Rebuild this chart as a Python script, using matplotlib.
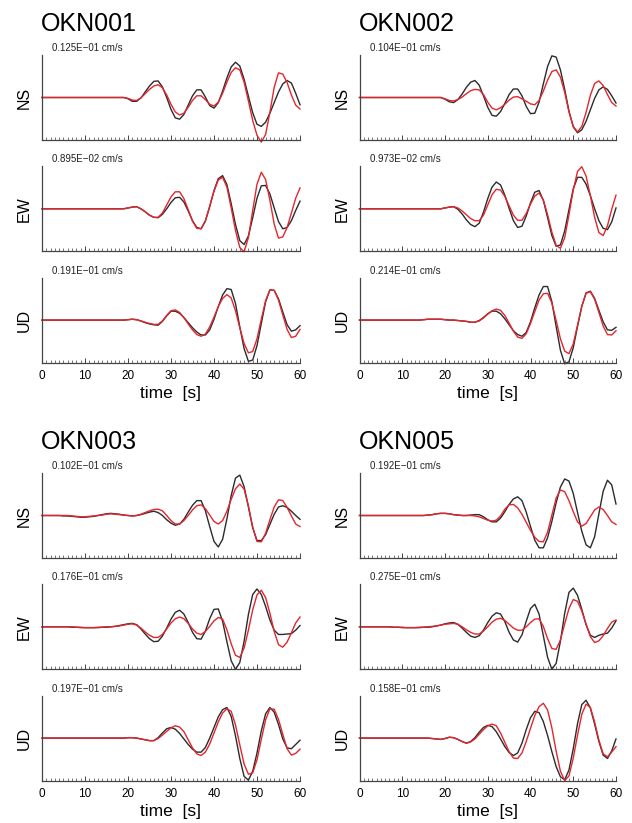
import numpy as np
import matplotlib.pyplot as plt

plt.rcParams['font.family'] = ['Liberation Sans', 'DejaVu Sans']

# time axis, one sample per second
t = np.arange(61)

stations = ['OKN001', 'OKN002', 'OKN003', 'OKN005']
components = ['NS', 'EW', 'UD']
tick_values = [0, 10, 20, 30, 40, 50, 60]

# peak amplitude text for each station / component
amp_text = {
    'OKN001': ['0.125E\u221201', '0.895E\u221202', '0.191E\u221201'],
    'OKN002': ['0.104E\u221201', '0.973E\u221202', '0.214E\u221201'],
    'OKN003': ['0.102E\u221201', '0.176E\u221201', '0.197E\u221201'],
    'OKN005': ['0.192E\u221201', '0.275E\u221201', '0.158E\u221201'],
}

# normalised waveforms (obs = black, syn = red), t = 0..60 s
okn001_ns_obs = [0, 0, 0, 0, 0, 0, 0, 0, 0, 0,
                 0, 0, 0, 0, 0, 0, 0, 0, 0, 0,
                 -0.03, -0.09, -0.09, -0.01, 0.13, 0.27, 0.38, 0.39, 0.25, 0.00,
                 -0.28, -0.48, -0.51, -0.40, -0.18, 0.04, 0.18, 0.18, 0.01, -0.19,
                 -0.25, -0.12, 0.15, 0.46, 0.72, 0.83, 0.74, 0.43, 0.03, -0.36,
                 -0.63, -0.68, -0.58, -0.37, -0.12, 0.13, 0.32, 0.40, 0.34, 0.10, -0.17]
okn001_ns_syn = [0, 0, 0, 0, 0, 0, 0, 0, 0, 0,
                 0, 0, 0, 0, 0, 0, 0, 0, 0, 0,
                 -0.02, -0.06, -0.07, -0.01, 0.09, 0.19, 0.27, 0.30, 0.23, 0.06,
                 -0.16, -0.34, -0.41, -0.37, -0.23, -0.07, 0.04, 0.04, -0.05, -0.16,
                 -0.20, -0.11, 0.10, 0.36, 0.59, 0.70, 0.65, 0.36, -0.08, -0.54,
                 -0.89, -1.05, -0.87, -0.35, 0.24, 0.58, 0.55, 0.35, 0.06, -0.18, -0.27]
okn001_ew_obs = [0, 0, 0, 0, 0, 0, 0, 0, 0, 0,
                 0, 0, 0, 0, 0, 0, 0, 0, 0, 0,
                 0.02, 0.04, 0.05, 0.00, -0.07, -0.15, -0.20, -0.21, -0.13, 0.00,
                 0.15, 0.26, 0.27, 0.16, -0.05, -0.28, -0.44, -0.47, -0.29, 0.05,
                 0.43, 0.71, 0.78, 0.57, 0.12, -0.37, -0.75, -0.84, -0.64, -0.21,
                 0.25, 0.54, 0.55, 0.35, 0.02, -0.30, -0.47, -0.44, -0.28, -0.04, 0.18]
okn001_ew_syn = [0, 0, 0, 0, 0, 0, 0, 0, 0, 0,
                 0, 0, 0, 0, 0, 0, 0, 0, 0, 0,
                 0.02, 0.04, 0.05, 0.00, -0.07, -0.15, -0.20, -0.20, -0.10, 0.09,
                 0.28, 0.40, 0.40, 0.24, -0.02, -0.29, -0.46, -0.47, -0.28, 0.06,
                 0.41, 0.68, 0.74, 0.51, 0.02, -0.51, -0.91, -1.01, -0.68, -0.04,
                 0.58, 0.86, 0.69, 0.20, -0.36, -0.69, -0.66, -0.44, -0.10, 0.25, 0.49]
okn001_ud_obs = [0, 0, 0, 0, 0, 0, 0, 0, 0, 0,
                 0, 0, 0, 0, 0, 0, 0, 0, 0, 0,
                 0.01, 0.02, 0.01, -0.02, -0.06, -0.09, -0.11, -0.12, -0.03, 0.10,
                 0.21, 0.21, 0.16, 0.06, -0.06, -0.18, -0.28, -0.35, -0.35, -0.23,
                 0.02, 0.32, 0.59, 0.74, 0.72, 0.39, -0.16, -0.67, -0.97, -0.94,
                 -0.60, -0.08, 0.43, 0.71, 0.70, 0.50, 0.19, -0.11, -0.26, -0.23, -0.13]
okn001_ud_syn = [0, 0, 0, 0, 0, 0, 0, 0, 0, 0,
                 0, 0, 0, 0, 0, 0, 0, 0, 0, 0,
                 0.01, 0.02, 0.01, -0.02, -0.05, -0.08, -0.10, -0.10, -0.02, 0.11,
                 0.22, 0.24, 0.18, 0.06, -0.09, -0.23, -0.34, -0.38, -0.33, -0.16,
                 0.07, 0.32, 0.51, 0.60, 0.52, 0.22, -0.18, -0.55, -0.77, -0.74,
                 -0.44, 0.02, 0.46, 0.71, 0.70, 0.47, 0.12, -0.22, -0.41, -0.38, -0.22]

okn002_ns_obs = [0, 0, 0, 0, 0, 0, 0, 0, 0, 0,
                 0, 0, 0, 0, 0, 0, 0, 0, 0, 0,
                 -0.04, -0.10, -0.12, -0.05, 0.08, 0.24, 0.36, 0.40, 0.29, 0.04,
                 -0.23, -0.42, -0.44, -0.33, -0.14, 0.07, 0.20, 0.20, 0.04, -0.21,
                 -0.38, -0.37, -0.11, 0.32, 0.73, 0.98, 0.95, 0.65, 0.19, -0.32,
                 -0.69, -0.83, -0.76, -0.56, -0.29, -0.02, 0.18, 0.25, 0.19, 0.04, -0.13]
okn002_ns_syn = [0, 0, 0, 0, 0, 0, 0, 0, 0, 0,
                 0, 0, 0, 0, 0, 0, 0, 0, 0, 0,
                 -0.03, -0.07, -0.08, -0.05, 0.01, 0.09, 0.16, 0.19, 0.18, 0.07,
                 -0.11, -0.25, -0.29, -0.24, -0.16, -0.06, 0.01, 0.02, -0.03, -0.09,
                 -0.15, -0.17, -0.07, 0.15, 0.41, 0.61, 0.65, 0.48, 0.12, -0.34,
                 -0.68, -0.81, -0.68, -0.35, 0.05, 0.33, 0.39, 0.28, 0.07, -0.12, -0.20]
okn002_ew_obs = [0, 0, 0, 0, 0, 0, 0, 0, 0, 0,
                 0, 0, 0, 0, 0, 0, 0, 0, 0, 0,
                 0.02, 0.04, 0.05, -0.01, -0.12, -0.26, -0.37, -0.42, -0.34, -0.08,
                 0.24, 0.51, 0.63, 0.56, 0.32, 0.01, -0.28, -0.44, -0.41, -0.17,
                 0.14, 0.39, 0.43, 0.20, -0.21, -0.63, -0.88, -0.85, -0.52, -0.02,
                 0.47, 0.74, 0.74, 0.58, 0.31, 0.00, -0.28, -0.46, -0.49, -0.31, 0.02]
okn002_ew_syn = [0, 0, 0, 0, 0, 0, 0, 0, 0, 0,
                 0, 0, 0, 0, 0, 0, 0, 0, 0, 0,
                 0.02, 0.04, 0.05, 0.02, -0.05, -0.14, -0.23, -0.28, -0.28, -0.15,
                 0.09, 0.33, 0.46, 0.44, 0.29, 0.07, -0.15, -0.27, -0.27, -0.11,
                 0.11, 0.30, 0.37, 0.21, -0.14, -0.55, -0.86, -0.93, -0.68, -0.14,
                 0.44, 0.88, 0.99, 0.77, 0.31, -0.20, -0.56, -0.63, -0.40, -0.01, 0.32]
okn002_ud_obs = [0, 0, 0, 0, 0, 0, 0, 0, 0, 0,
                 0, 0, 0, 0, 0, 0.01, 0.02, 0.02, 0.02, 0.02,
                 0.01, 0.00, 0.00, -0.01, -0.02, -0.03, -0.05, -0.05, -0.01, 0.06,
                 0.15, 0.21, 0.21, 0.15, 0.03, -0.11, -0.25, -0.34, -0.38, -0.29,
                 -0.04, 0.29, 0.59, 0.79, 0.79, 0.43, -0.15, -0.71, -1.03, -0.98,
                 -0.65, -0.15, 0.32, 0.64, 0.68, 0.51, 0.23, -0.04, -0.23, -0.24, -0.17]
okn002_ud_syn = [0, 0, 0, 0, 0, 0, 0, 0, 0, 0,
                 0, 0, 0, 0, 0, 0.01, 0.02, 0.02, 0.02, 0.02,
                 0.01, 0.00, 0.00, -0.01, -0.02, -0.03, -0.05, -0.05, -0.02, 0.05,
                 0.14, 0.22, 0.26, 0.23, 0.11, -0.07, -0.26, -0.40, -0.43, -0.32,
                 -0.08, 0.20, 0.47, 0.62, 0.63, 0.40, -0.01, -0.44, -0.73, -0.79,
                 -0.56, -0.12, 0.33, 0.63, 0.67, 0.49, 0.18, -0.14, -0.34, -0.35, -0.25]

okn003_ns_obs = [0, 0, 0, 0, 0, -0.01, -0.01, -0.02, -0.03, -0.04,
                 -0.04, -0.03, -0.02, 0.00, 0.02, 0.04, 0.05, 0.04, 0.03, 0.01,
                 0.00, -0.01, 0.00, 0.02, 0.05, 0.08, 0.10, 0.07, 0.00, -0.10,
                 -0.18, -0.23, -0.20, -0.09, 0.08, 0.24, 0.35, 0.35, 0.11, -0.26,
                 -0.61, -0.74, -0.56, -0.08, 0.47, 0.88, 0.95, 0.68, 0.20, -0.29,
                 -0.59, -0.59, -0.45, -0.21, 0.03, 0.20, 0.23, 0.19, 0.10, 0.00, -0.09]
okn003_ns_syn = [0, 0, 0, 0, 0, 0, 0, -0.01, -0.02, -0.03,
                 -0.03, -0.02, -0.01, 0.00, 0.01, 0.03, 0.04, 0.03, 0.02, 0.01,
                 0.00, -0.01, 0.00, 0.03, 0.07, 0.11, 0.14, 0.15, 0.11, 0.00,
                 -0.12, -0.20, -0.20, -0.12, 0.00, 0.13, 0.23, 0.25, 0.16, 0.01,
                 -0.14, -0.20, -0.12, 0.10, 0.38, 0.63, 0.74, 0.62, 0.23, -0.27,
                 -0.61, -0.62, -0.42, -0.10, 0.20, 0.37, 0.35, 0.19, -0.01, -0.20, -0.26]
okn003_ew_obs = [0, 0, 0, 0, 0, 0, 0, -0.01, -0.01, -0.02,
                 -0.02, -0.02, -0.02, -0.02, -0.01, -0.01, 0.00, 0.01, 0.03, 0.05,
                 0.07, 0.08, 0.05, -0.05, -0.17, -0.28, -0.35, -0.34, -0.22, -0.03,
                 0.18, 0.34, 0.39, 0.30, 0.10, -0.13, -0.28, -0.29, -0.10, 0.19,
                 0.41, 0.42, 0.13, -0.35, -0.80, -1.00, -0.84, -0.34, 0.29, 0.76,
                 0.89, 0.76, 0.48, 0.16, -0.08, -0.18, -0.18, -0.17, -0.16, -0.08, 0.03]
okn003_ew_syn = [0, 0, 0, 0, 0, 0, 0, 0, -0.01, -0.01,
                 -0.02, -0.02, -0.02, -0.01, -0.01, 0.00, 0.00, 0.01, 0.02, 0.04,
                 0.06, 0.07, 0.04, -0.03, -0.12, -0.20, -0.25, -0.25, -0.18, -0.05,
                 0.09, 0.19, 0.23, 0.19, 0.08, -0.05, -0.15, -0.18, -0.11, 0.01,
                 0.14, 0.22, 0.18, -0.07, -0.40, -0.67, -0.72, -0.50, -0.08, 0.40,
                 0.75, 0.86, 0.69, 0.32, -0.11, -0.42, -0.48, -0.36, -0.14, 0.09, 0.23]
okn003_ud_obs = [0, 0, 0, 0, 0, 0, 0, 0, 0, 0,
                 0, 0, 0, 0, 0, 0, 0, 0, 0, 0,
                 0.01, 0.01, 0.00, -0.02, -0.04, -0.06, -0.06, 0.01, 0.12, 0.22,
                 0.25, 0.21, 0.11, -0.02, -0.15, -0.26, -0.33, -0.33, -0.22, 0.00,
                 0.25, 0.50, 0.67, 0.72, 0.51, 0.05, -0.48, -0.90, -0.99, -0.78,
                 -0.35, 0.17, 0.57, 0.72, 0.61, 0.32, -0.02, -0.23, -0.25, -0.15, -0.05]
okn003_ud_syn = [0, 0, 0, 0, 0, 0, 0, 0, 0, 0,
                 0, 0, 0, 0, 0, 0, 0, 0, 0, 0,
                 0.01, 0.01, 0.00, -0.02, -0.04, -0.06, -0.06, -0.01, 0.07, 0.16,
                 0.24, 0.29, 0.26, 0.15, -0.04, -0.23, -0.37, -0.41, -0.33, -0.14,
                 0.12, 0.38, 0.59, 0.69, 0.63, 0.31, -0.16, -0.61, -0.85, -0.82,
                 -0.51, -0.03, 0.43, 0.69, 0.68, 0.44, 0.09, -0.25, -0.40, -0.36, -0.26]

okn005_ns_obs = [0, 0, 0, 0, 0, 0, 0, 0, 0, 0,
                 0, 0, 0, 0, 0, 0, 0.01, 0.02, 0.04, 0.05,
                 0.05, 0.04, 0.02, 0.01, 0.00, 0.00, 0.01, 0.02, 0.02, -0.03,
                 -0.10, -0.15, -0.15, -0.06, 0.09, 0.26, 0.39, 0.44, 0.35, 0.08,
                 -0.26, -0.58, -0.76, -0.76, -0.52, -0.14, 0.30, 0.67, 0.86, 0.81,
                 0.52, 0.07, -0.37, -0.69, -0.76, -0.50, 0.04, 0.57, 0.83, 0.72, 0.27]
okn005_ns_syn = [0, 0, 0, 0, 0, 0, 0, 0, 0, 0,
                 0, 0, 0, 0, 0, 0, 0.01, 0.02, 0.04, 0.05,
                 0.05, 0.04, 0.02, 0.01, 0.00, 0.00, 0.00, -0.01, -0.03, -0.07,
                 -0.11, -0.13, -0.11, -0.01, 0.15, 0.25, 0.26, 0.18, 0.03, -0.16,
                 -0.35, -0.51, -0.61, -0.62, -0.39, 0.01, 0.41, 0.60, 0.56, 0.35,
                 0.09, -0.15, -0.25, -0.19, -0.03, 0.13, 0.20, 0.14, 0.00, -0.15, -0.21]
okn005_ew_obs = [0, 0, 0, 0, 0, 0, 0, 0, -0.01, -0.01,
                 -0.02, -0.02, -0.02, -0.02, -0.02, -0.01, -0.01, 0.00, 0.02, 0.04,
                 0.07, 0.09, 0.10, 0.06, -0.03, -0.13, -0.22, -0.25, -0.21, -0.08,
                 0.10, 0.25, 0.33, 0.30, 0.12, -0.13, -0.31, -0.36, -0.19, 0.13,
                 0.43, 0.53, 0.30, -0.21, -0.72, -1.00, -0.86, -0.34, 0.32, 0.81,
                 0.91, 0.74, 0.41, 0.05, -0.20, -0.25, -0.20, -0.17, -0.15, -0.03, 0.14]
okn005_ew_syn = [0, 0, 0, 0, 0, 0, 0, 0, -0.01, -0.01,
                 -0.01, -0.02, -0.02, -0.02, -0.01, -0.01, 0.00, 0.01, 0.02, 0.04,
                 0.06, 0.07, 0.08, 0.06, 0.00, -0.07, -0.13, -0.17, -0.17, -0.10,
                 0.00, 0.11, 0.18, 0.20, 0.15, 0.06, -0.03, -0.08, -0.08, 0.00,
                 0.10, 0.18, 0.19, 0.01, -0.28, -0.51, -0.53, -0.31, 0.07, 0.43,
                 0.64, 0.60, 0.37, 0.06, -0.23, -0.37, -0.33, -0.21, -0.04, 0.11, 0.16]
okn005_ud_obs = [0, 0, 0, 0, 0, 0, 0, 0, 0, 0,
                 0, 0, 0, 0, 0, 0, 0, -0.01, -0.02, -0.03,
                 -0.01, 0.02, 0.01, -0.03, -0.08, -0.12, -0.08, 0.01, 0.14, 0.25,
                 0.30, 0.27, 0.15, -0.02, -0.20, -0.34, -0.41, -0.35, -0.12, 0.20,
                 0.48, 0.63, 0.60, 0.39, 0.06, -0.32, -0.67, -0.91, -0.98, -0.75,
                 -0.25, 0.34, 0.79, 0.89, 0.71, 0.33, -0.08, -0.40, -0.48, -0.30, -0.02]
okn005_ud_syn = [0, 0, 0, 0, 0, 0, 0, 0, 0, 0,
                 0, 0, 0, 0, 0, 0, 0, -0.01, -0.02, -0.03,
                 -0.01, 0.02, 0.01, -0.03, -0.08, -0.12, -0.09, -0.02, 0.09, 0.20,
                 0.29, 0.33, 0.29, 0.12, -0.10, -0.32, -0.47, -0.48, -0.35, -0.08,
                 0.23, 0.53, 0.74, 0.82, 0.66, 0.24, -0.31, -0.78, -1.00, -0.89,
                 -0.47, 0.07, 0.56, 0.80, 0.72, 0.38, -0.05, -0.37, -0.44, -0.33, -0.20]

obs = {
    'OKN001': [okn001_ns_obs, okn001_ew_obs, okn001_ud_obs],
    'OKN002': [okn002_ns_obs, okn002_ew_obs, okn002_ud_obs],
    'OKN003': [okn003_ns_obs, okn003_ew_obs, okn003_ud_obs],
    'OKN005': [okn005_ns_obs, okn005_ew_obs, okn005_ud_obs],
}
syn = {
    'OKN001': [okn001_ns_syn, okn001_ew_syn, okn001_ud_syn],
    'OKN002': [okn002_ns_syn, okn002_ew_syn, okn002_ud_syn],
    'OKN003': [okn003_ns_syn, okn003_ew_syn, okn003_ud_syn],
    'OKN005': [okn005_ns_syn, okn005_ew_syn, okn005_ud_syn],
}

W, H = 632, 823
fig = plt.figure(figsize=(W / 100, H / 100), dpi=100)

def px_axes(x, y, w, h):
    'axes from pixel box (top-left origin)'
    return fig.add_axes([x / W, 1 - (y + h) / H, w / W, h / H])

# block layout: (axis left, axis width, first axis top, label x)
blocks = {
    'OKN001': (42, 258, 55, 24),
    'OKN002': (359.5, 256.5, 55, 342),
    'OKN003': (42, 258, 473, 24),
    'OKN005': (359.5, 256.5, 473, 342),
}
ax_h = 85
step = 111.3

for st in stations:
    x0, aw, top, lx = blocks[st]
    fig.text((x0 - 1) / W, 1 - (top - 24) / H, st, fontsize=18,
             ha='left', va='baseline', color='black')
    for i, comp in enumerate(components):
        y = top + i * step
        ax = px_axes(x0, y, aw, ax_h)
        ax.plot(t, obs[st][i], color='#2b2b2b', lw=1.0, clip_on=False)
        ax.plot(t, syn[st][i], color='#e3262e', lw=1.0, clip_on=False)
        ax.set_xlim(0, 60)
        ax.set_ylim(-1, 1)
        for s in ('top', 'right'):
            ax.spines[s].set_visible(False)
        ax.spines['left'].set_color('#444444')
        ax.spines['bottom'].set_color('#444444')
        ax.spines['left'].set_linewidth(0.9)
        ax.spines['bottom'].set_linewidth(0.9)
        ax.set_yticks([])
        ax.set_xticks(tick_values)
        ax.set_xticks(t, minor=True)
        ax.tick_params(axis='x', which='major', direction='in', length=3.5,
                       width=0.7, color='#444444', labelsize=8.5, pad=5)
        ax.tick_params(axis='x', which='minor', direction='in', length=2,
                       width=0.5, color='#444444')
        if i < 2:
            ax.tick_params(axis='x', labelbottom=False)
        else:
            ax.set_xlabel('time  [s]', fontsize=12.5, labelpad=3)
        fig.text((x0 + 10) / W, 1 - (y - 2) / H, amp_text[st][i] + ' cm/s',
                 fontsize=7, ha='left', va='bottom', color='#222222')
        fig.text(lx / W, 1 - (y + ax_h / 2) / H, comp, fontsize=11.5,
                 rotation=90, ha='center', va='center')

fig.savefig('out.png', dpi=100)
